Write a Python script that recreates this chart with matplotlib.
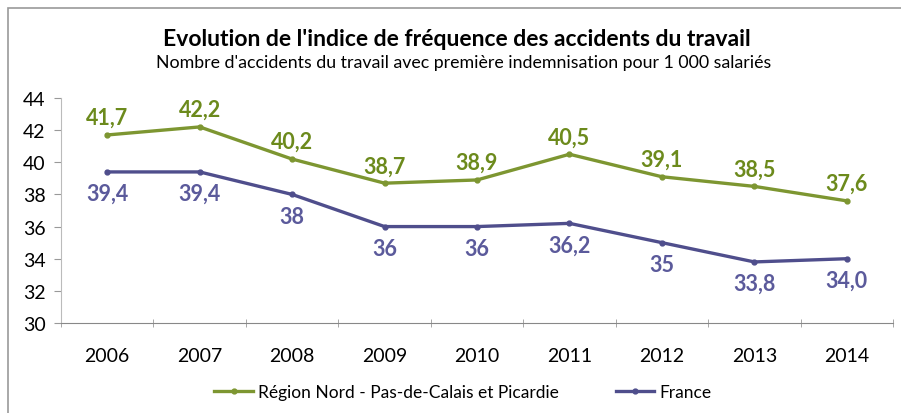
import matplotlib.pyplot as plt
from matplotlib.patches import Rectangle

years = ["2006", "2007", "2008", "2009", "2010", "2011", "2012", "2013", "2014"]
region = [41.7, 42.2, 40.2, 38.7, 38.9, 40.5, 39.1, 38.5, 37.6]
france = [39.4, 39.4, 38.0, 36.0, 36.0, 36.2, 35.0, 33.8, 34.0]
region_labels = ["41,7", "42,2", "40,2", "38,7", "38,9", "40,5", "39,1", "38,5", "37,6"]
france_labels = ["39,4", "39,4", "38", "36", "36", "36,2", "35", "33,8", "34,0"]

green = "#7d9631"
green_txt = "#6c8a1c"
purple = "#4f4e8c"
purple_txt = "#5b5a9b"

plt.rcParams["font.family"] = ["Lato", "DejaVu Sans"]

fig = plt.figure(figsize=(9.01, 4.14), dpi=100)
ax = fig.add_axes([61 / 901, 1 - 324 / 414, (893 - 61) / 901, (324 - 99) / 414])

x = list(range(len(years)))
ax.plot(x, region, color=green, lw=2.4, marker="o", ms=3.5,
        label="Région Nord - Pas-de-Calais et Picardie")
ax.plot(x, france, color=purple, lw=2.4, marker="o", ms=3.5, label="France")

for xi, v, t in zip(x, region, region_labels):
    ax.annotate(t, (xi, v), xytext=(0, 5), textcoords="offset points",
                ha="center", va="bottom", fontsize=15.5, fontweight="bold", color=green_txt)
for xi, v, t in zip(x, france, france_labels):
    ax.annotate(t, (xi, v), xytext=(0, -8), textcoords="offset points",
                ha="center", va="top", fontsize=15.5, fontweight="bold", color=purple_txt)

ax.set_xlim(-0.5, len(years) - 0.5)
ax.set_ylim(30, 44)
ax.set_yticks(range(30, 45, 2))
ax.set_xticks(x)
ax.set_xticklabels(years)
ax.set_xticks([i - 0.5 for i in range(len(years) + 1)], minor=True)
ax.tick_params(axis="x", which="major", length=0, pad=17, labelsize=14)
ax.tick_params(axis="x", which="minor", length=6, direction="inout", color="#999999")
ax.tick_params(axis="y", length=5, color="#999999", pad=6, labelsize=14)

for s in ["top", "right"]:
    ax.spines[s].set_visible(False)
ax.spines["left"].set_color("#bbbbbb")
ax.spines["bottom"].set_color("#888888")
ax.patch.set_alpha(0)

fig.text(457 / 901, 1 - 39 / 414, "Evolution de l'indice de fréquence des accidents du travail",
         ha="center", va="center", fontsize=16.5, fontweight="bold")
fig.text(464 / 901, 1 - 63 / 414,
         "Nombre d'accidents du travail avec première indemnisation pour 1 000 salariés",
         ha="center", va="center", fontsize=12.8)

fig.legend(loc="center", bbox_to_anchor=(463 / 901, 1 - 393 / 414), ncol=2,
           frameon=False, fontsize=12.5, handlelength=2.2, handletextpad=0.3,
           columnspacing=3.3)

fig.patches.append(Rectangle((8 / 901, -0.05), 1.2, 1 - 9 / 414 + 0.05,
                             transform=fig.transFigure, fill=False,
                             edgecolor="#999999", lw=1.2, zorder=0))

fig.savefig("out.png", dpi=100)
